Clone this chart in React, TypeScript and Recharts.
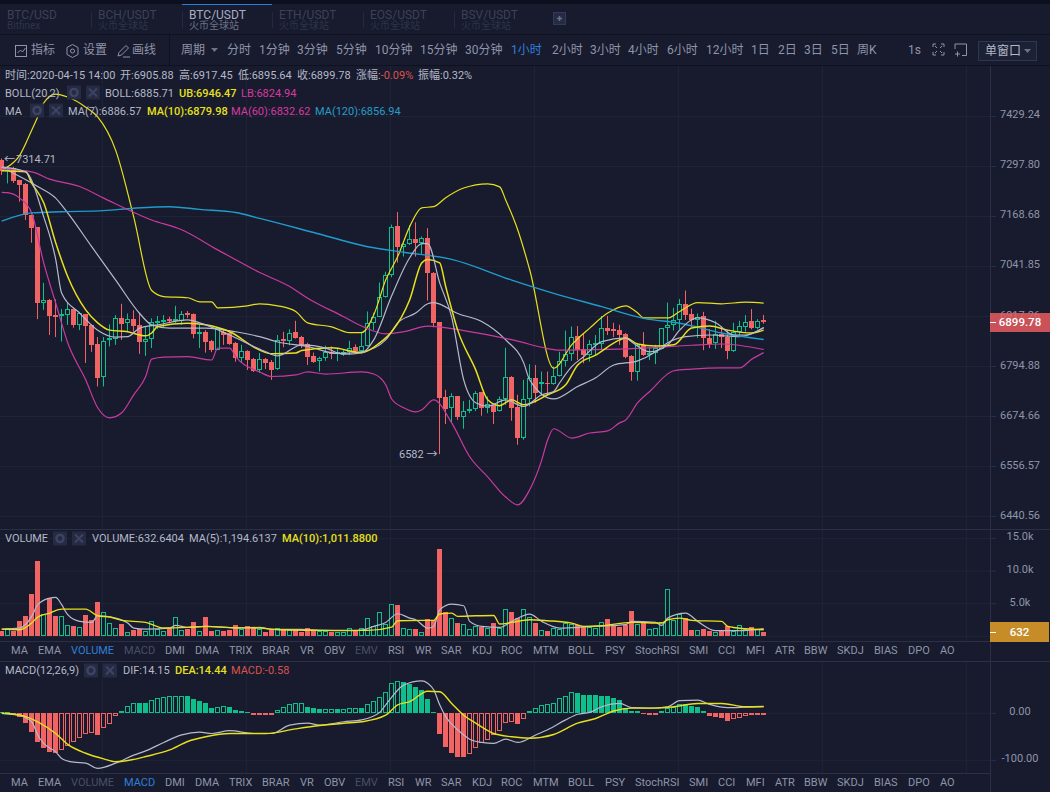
import React from "react"
import { ComposedChart, Bar, Line, XAxis, YAxis, CartesianGrid } from "recharts"

const opens = [7311,7281,7289,7259,7249,7169,7137,6948,6955,6917,6914,6918,6933,6893,6920,6893,6846,6765,6855,6858,6909,6897,6907,6893,6852,6858,6898,6901,6907,6903,6903,6921,6919,6871,6876,6853,6832,6876,6874,6848,6813,6829,6809,6783,6809,6803,6785,6858,6854,6875,6863,6845,6817,6804,6811,6826,6821,6821,6826,6839,6830,6842,6898,6913,6961,7016,7141,7088,7094,7107,7098,7110,7023,6899,6717,6691,6720,6671,6685,6689,6729,6692,6699,6684,6714,6767,6693,6620,6713,6763,6750,6751,6748,6769,6805,6821,6866,6833,6819,6844,6846,6885,6883,6880,6871,6817,6779,6844,6819,6823,6834,6885,6892,6905,6945,6919,6905,6915,6860,6848,6871,6862,6829,6875,6888,6902,6885,6905.88]
const closes = [7281,7289,7256,7246,7169,7136,6948,6955,6915,6913,6920,6932,6893,6921,6890,6844,6764,6854,6860,6909,6896,6907,6891,6852,6858,6901,6902,6904,6903,6907,6919,6917,6871,6875,6852,6831,6885,6868,6846,6813,6828,6807,6780,6809,6800,6783,6856,6853,6874,6861,6844,6815,6803,6811,6826,6821,6827,6826,6837,6830,6842,6898,6913,6961,7016,7139,7088,7094,7107,7098,7110,7023,6898,6716,6689,6719,6671,6685,6689,6728,6692,6700,6683,6714,6767,6692,6619,6713,6763,6727,6753,6748,6769,6805,6821,6864,6831,6819,6845,6848,6885,6879,6879,6868,6814,6779,6844,6819,6823,6836,6885,6892,6905,6944,6917,6905,6913,6860,6846,6870,6864,6829,6875,6889,6901,6885,6902,6899.78]
const highs = [7314.71,7295,7293,7259,7251,7170,7138,6997,6957,6956,6932,6947,6934,6925,6920,6894,6863,6863,6894,6917,6945,6921,6929,6922,6889,6909,6915,6917,6913,6940,6927,6927,6921,6893,6880,6856,6888,6883,6880,6851,6844,6831,6812,6824,6812,6807,6868,6876,6882,6903,6866,6849,6825,6815,6842,6840,6836,6831,6854,6845,6876,6926,6923,6998,7025,7144,7176,7098,7143,7150,7114,7135,7024,6900,6735,6727,6720,6708,6711,6732,6730,6719,6703,6719,6837,6768,6723,6759,6797,6795,6779,6779,6791,6827,6879,6889,6890,6872,6856,6868,6915,6915,6898,6893,6873,6819,6846,6875,6838,6844,6885,6948,6935,6957,6978,6933,6921,6925,6882,6903,6890,6880,6898,6903,6917,6932,6907,6917.45]
const lows = [7272,7250,7251,7203,7156,7098,6907,6930,6868,6863,6852,6893,6886,6880,6800,6827,6743,6743,6840,6844,6856,6876,6876,6822,6817,6836,6883,6885,6897,6898,6893,6910,6860,6836,6825,6826,6831,6844,6844,6803,6802,6783,6778,6776,6785,6759,6783,6838,6843,6859,6836,6795,6800,6779,6805,6809,6804,6817,6819,6821,6827,6840,6880,6912,6960,7011,7048,7063,7092,7063,7067,6953,6887,6582,6653,6656,6663,6642,6679,6684,6673,6679,6653,6683,6699,6661,6604,6616,6695,6704,6721,6723,6747,6767,6791,6805,6807,6799,6803,6819,6831,6868,6863,6844,6811,6757,6757,6817,6807,6797,6833,6852,6879,6882,6905,6887,6861,6831,6836,6834,6836,6809,6827,6868,6876,6882,6882,6895.64]
const volumes = [770,1220,770,2400,3160,6530,11580,3470,5870,3060,3160,1730,1630,1480,3320,2450,5300,3720,2040,1330,1940,660,920,1120,870,2350,1120,870,1220,2960,970,1120,2240,870,3010,870,1020,870,920,1790,1120,1630,1380,1170,710,1020,1220,970,920,1020,710,1280,1020,870,870,710,610,710,1220,770,1220,2800,1530,3720,1890,4950,4850,1330,1120,1170,660,2700,2550,13410,3770,2800,2090,1890,1170,1630,1480,1330,2040,1330,4180,3770,2800,4180,2960,2090,1020,870,1280,1120,2090,1890,1680,1530,1430,1280,2190,2700,1790,1380,1680,3930,1890,2040,1170,1330,2140,7240,2550,3420,2860,1020,970,1170,770,660,770,1530,770,1730,1120,1430,1120,632.64]
const macdBars = [2.8,3.5,-3.5,-7,-21,-39,-60,-73,-82,-84,-79,-69,-60,-52,-44,-41,-46,-32,-23,-5,5.7,16,23,22,21,28,32,34,36,37,37.5,36,31,26,21,12,14,15,13,6,4,3.5,-3.5,-3,-1.5,-3,8,14,19,21,21.3,14,11,8.5,8.8,9,8.5,9,10.6,11.3,10.6,19,26,34,45,64,69,66,62,56,50,30,3.5,-44,-71,-84,-92,-92.5,-86,-73,-64,-57,-46,-38,-20,-18,-23,-13,5,11,18,19,23,32,37,45,43,39,39,38,36,36,32,28,11,5,5,-2,-3.5,-3.5,5,11,14,19,19,16,13,5,-6,-8,-9,-16,-13,-9,-5,-4,-3.5,-0.58]

// line readings: candle index + value at that candle
const ma7At = [0,4,7,9,10,13,16,19,21,23,26,31,33,38,42,44,46,50,54,57,60,62,65,68,70,71,73,75,77,79,81,84,87,90,92,93,95,97,100,104,105,108,111,113,116,119,122,124,127]
const ma7 = [7293,7280,7164,7056,6971,6922,6880,6863,6864,6885,6893,6905,6898,6868,6840,6827,6817,6844,6836,6821,6824,6856,6965,7060,7096,7096,6997,6912,6759,6704,6696,6711,6695,6723,6731,6752,6791,6815,6852,6861,6851,6827,6844,6880,6910,6898,6868,6868,6886.57]
const ma10At = [0,4,5,7,9,11,14,16,18,21,24,25,26,31,34,38,43,45,49,50,55,60,63,65,68,70,71,73,74,76,79,81,83,85,87,91,94,96,99,103,104,106,109,112,115,118,121,125,127]
const ma10 = [7283,7280,7251,7200,7098,7013,6930,6898,6880,6876,6866,6873,6889,6897,6893,6876,6831,6822,6824,6830,6837,6825,6849,6876,6955,7047,7056,7047,6988,6880,6783,6711,6697,6711,6699,6723,6747,6795,6819,6856,6861,6846,6841,6844,6885,6890,6880,6873,6879.98]
const ma60At = [0,5,8,13,17,25,30,36,43,48,51,57,60,64,67,71,77,86,90,93,101,107,115,120,127]
const ma60 = [7287,7280,7261,7242,7212,7156,7131,7080,7023,6988,6959,6913,6890,6871,6876,6890,6879,6853,6838,6831,6833,6836,6843,6846,6832.62]
const ma120At = [0,5,10,17,22,28,33,39,43,52,61,67,75,85,92,100,107,113,120,127]
const ma120 = [7153,7174,7177,7180,7186,7190,7183,7175,7160,7124,7088,7074,7056,7004,6971,6938,6909,6897,6873,6856.94]
const bollAt = [0,6,9,11,15,19,23,25,28,34,39,43,46,51,56,60,64,66,69,71,72,76,80,84,87,88,92,96,99,102,106,109,111,114,118,123,127]
const boll = [7292,7242,7212,7174,7088,7004,6921,6893,6885,6885,6876,6864,6851,6840,6823,6827,6856,6898,6922,6945,6948,6921,6901,6856,6800,6759,6713,6743,6764,6795,6805,6827,6849,6864,6868,6864,6885.71]
const ubAt = [0,1,3,5,6,7,9,11,14,16,19,22,25,27,31,33,35,36,41,43,46,49,51,55,58,60,62,64,66,68,70,72,74,77,81,83,84,86,88,92,95,98,101,104,106,107,111,113,116,120,124,127]
const ub = [7285,7293,7323,7389,7424,7461,7485,7477,7450,7424,7336,7164,6978,6963,6960,6950,6950,6935,6940,6945,6940,6926,6898,6888,6874,6874,6917,7004,7063,7139,7187,7190,7213,7238,7249,7241,7207,7131,7030,6787,6844,6885,6922,6940,6922,6910,6910,6926,6948,6945,6949,6946.47]
const lbAt = [0,1,3,5,7,9,11,14,16,18,20,22,24,25,27,31,35,36,38,39,43,45,49,51,54,60,62,64,65,67,69,70,72,75,78,81,84,86,88,90,91,92,95,98,101,103,104,106,108,112,115,120,123,125,127]
const lb = [7227,7226,7212,7174,7047,6947,6849,6759,6692,6668,6680,6723,6767,6809,6814,6815,6807,6836,6836,6815,6778,6767,6771,6778,6773,6778,6773,6747,6713,6692,6682,6687,6711,6656,6576,6529,6482,6464,6499,6568,6616,6642,6620,6632,6637,6656,6663,6704,6731,6781,6785,6788,6788,6809,6824.94]

const volMa5At = [0,3,5,6,8,9,10,11,13,15,16,19,21,22,24,28,29,31,34,39,43,45,50,53,58,60,62,64,66,68,69,71,72,73,75,77,78,80,83,85,88,90,93,96,99,104,105,109,110,111,114,116,119,123,127]
const volMa5 = [1120,1280,3060,4850,5870,5970,4850,3320,2300,2140,3160,2800,2040,1280,1120,1280,1680,1380,1530,1280,1380,1070,1070,920,870,970,1530,2140,3470,2800,2550,1280,1530,4080,4950,4690,2300,1530,1380,2300,3420,2300,1280,1380,1530,1790,2300,2140,1680,2800,3570,2300,870,870,1194.61]
const volMa10At = [0,3,5,6,8,10,14,16,18,20,24,27,31,34,39,43,46,55,61,65,66,70,72,73,75,76,79,82,83,85,88,91,95,97,100,105,110,111,113,115,120,121,124,127]
const volMa10 = [1120,1020,2040,2960,3570,4180,4180,3160,2960,2450,2140,1280,1380,1530,1330,1280,1020,920,920,1430,2400,2450,2450,3420,3570,3060,3160,3210,1890,2140,2550,2400,2040,1530,1630,2140,2040,2550,2800,2450,2300,1530,1170,1011.88]

const difAt = [0,3,5,6,7,9,10,12,14,16,19,22,24,27,30,33,35,38,42,45,48,51,53,57,60,63,64,67,70,71,72,73,74,76,78,80,82,84,86,89,91,94,96,98,100,103,105,108,111,113,116,118,121,124,127]
const dif = [0,-5,-18,-46,-64,-82,-96,-104,-106,-117,-106,-89,-80,-62,-46,-40,-43,-37,-43,-43,-25,-21,-25,-18,-14,2,18,60,69,64,50,18,-7,-35,-55,-62,-64,-55,-62,-46,-35,-14,-2,2,14,21,12,11,14,27,28,19,12,13,14.15]
const deaAt = [0,3,6,9,11,14,17,19,22,24,28,31,34,38,44,49,53,57,60,64,66,68,71,73,75,77,79,82,85,88,92,96,99,102,105,109,112,116,120,124,127]
const dea = [0,-3.5,-18,-43,-66,-85,-97,-103,-98,-92,-78,-60,-50,-43,-43,-33,-26,-21,-18,-4,18,25,47,46,21,-4,-21,-43,-50,-53,-45,-21,-11,5,11,11,14,21,21,14,14.44]

const priceTicks = [7429.24,7297.8,7168.68,7041.85,6917.26,6794.88,6674.66,6556.57,6440.56]
// gridlines sit just under each price label
const priceGridLevels = [7425.3,7293.9,7164.9,7038.1,6913.6,6791.3,6671.1,6553.1,6437.1]
const volumeTicks = [0,5000,10000,15000]
const macdTicks = [0,-100]
const timeTicks = [16.77,40.77,64.77,88.77,112.77,136.77,160.77]

const pairTabs = [
  ["BTC/USD", "Bitfinex", 7],
  ["BCH/USDT", "火币全球站", 98],
  ["BTC/USDT", "火币全球站", 189],
  ["ETH/USDT", "火币全球站", 279],
  ["EOS/USDT", "火币全球站", 370],
  ["BSV/USDT", "火币全球站", 461],
] as const
const periods = [["分时",227],["1分钟",259],["3分钟",297],["5分钟",336],["10分钟",375],["15分钟",420],["30分钟",465],["1小时",511],["2小时",552],["3小时",590],["4小时",628],["6小时",667],["12小时",706],["1日",751],["2日",778],["3日",804],["5日",831],["周K",857]] as const
const indicators = [["MA",11],["EMA",38],["VOLUME",71],["MACD",124],["DMI",165],["DMA",195],["TRIX",229],["BRAR",262],["VR",300],["OBV",324],["EMV",355],["RSI",388],["WR",415],["SAR",441],["KDJ",472],["ROC",501],["MTM",533],["BOLL",568],["PSY",605],["StochRSI",635],["SMI",689],["CCI",718],["MFI",746],["ATR",775],["BBW",804],["SKDJ",837],["BIAS",874],["DPO",908],["AO",940]] as const

const RED = "#f26363"
const GREEN = "#0fbf8b"
const BG = "#171b2d"
const GRID = "#1f2436"
const EDGE = "#2a3048"
const TEXT = "#8f94aa"
const LABEL = "#b4b8c9"
const DIM = "#4a4f66"
const YELLOW = "#e8e01c"
const MAGENTA = "#c93a9f"
const CYAN = "#1f9ccb"
const SILVER = "#b6bacd"
const FONT = 'Roboto, "Noto Sans CJK SC", sans-serif'

const candles = opens.map((open, i) => ({
  i,
  open,
  close: closes[i],
  high: highs[i],
  low: lows[i],
  range: [lows[i], highs[i]],
}))
const volumeRows = volumes.map((volume, i) => ({ i, volume, up: closes[i] >= opens[i] }))
const macdRows = macdBars.map((macd, i) => ({ i, macd, rising: i > 0 && macd > macdBars[i - 1] }))

const series = (at: number[], values: number[]) => at.map((i, k) => ({ i, v: values[k] }))

// hollow or filled body, snapped to whole pixels so the 1px outline stays sharp
function Body({ left, top, bottom, color, hollow }: any) {
  const t = Math.round(top)
  const h = Math.max(Math.round(bottom) - t, 1)
  return hollow ? (
    <rect x={left + 0.5} y={t + 0.5} width={4} height={Math.max(h - 1, 1)} fill={BG} stroke={color} strokeWidth={1} />
  ) : (
    <rect x={left} y={t} width={5} height={h} fill={color} />
  )
}

// wick + body, body ends placed from the bar's own high/low pixels on the log axis
function Candle({ x, y, height, payload }: any) {
  const { open, close, high, low } = payload
  const yOf = (p: number) => y + (height * Math.log(high / p)) / Math.log(high / low)
  const left = Math.round(x)
  const mid = left + 2.5
  const up = close >= open
  const color = up ? GREEN : RED
  return (
    <g>
      <line x1={mid} x2={mid} y1={y} y2={y + height} stroke={color} strokeWidth={1} />
      <Body left={left} top={yOf(Math.max(open, close))} bottom={yOf(Math.min(open, close))} color={color} hollow={up} />
    </g>
  )
}

function VolumeBar({ x, y, height, payload }: any) {
  return <Body left={Math.round(x)} top={y} bottom={y + height} color={payload.up ? GREEN : RED} hollow={payload.up} />
}

function MacdBar({ x, y, height, payload }: any) {
  const top = Math.min(y, y + height)
  return (
    <Body
      left={Math.round(x)}
      top={top}
      bottom={top + Math.abs(height)}
      color={payload.macd >= 0 ? GREEN : RED}
      hollow={payload.rising}
    />
  )
}

// reference draws tick text and tick mark about 1.5px apart
const axisTick = (format: (v: number) => string, textDy: number, markDy: number) => (p: any) => (
  <g>
    <line x1={990} x2={996} y1={p.y + markDy} y2={p.y + markDy} stroke={EDGE} />
    <text x={1020} y={p.y + textDy} fill={TEXT} fontSize={11} fontFamily={FONT} textAnchor="middle" dominantBaseline="central">
      {format(p.payload.value)}
    </text>
  </g>
)

const xDomain: [number, number] = [-0.283, 164.717]

function Panel({ top, height, data, yProps, children, ticks, gridLevels }: any) {
  return (
    <div style={{ position: "absolute", left: 0, top }}>
      <ComposedChart width={1050} height={height} data={data} margin={{ top: 0, right: 0, bottom: 0, left: 0 }}>
        <CartesianGrid stroke={GRID} verticalValues={timeTicks} horizontalValues={gridLevels ?? ticks} />
        <XAxis dataKey="i" type="number" domain={xDomain} hide allowDataOverflow ticks={timeTicks} />
        <YAxis
          orientation="right"
          width={60}
          type="number"
          ticks={ticks}
          axisLine={false}
          tickLine={false}
          tickSize={6}
          interval={0}
          allowDataOverflow
          {...yProps}
        />
        {children}
      </ComposedChart>
    </div>
  )
}

const lineOf = (at: number[], values: number[], color: string, width = 1.2) => (
  <Line
    key={color + at.length}
    data={series(at, values)}
    dataKey="v"
    type="monotone"
    stroke={color}
    strokeWidth={width}
    dot={false}
    connectNulls
    isAnimationActive={false}
    legendType="none"
  />
)

function T({ x, y, c = LABEL, s = 11, w = 400, children }: any) {
  return (
    <div style={{ position: "absolute", left: x, top: y, transform: "translateY(-50%)", color: c, fontSize: s, fontWeight: w, fontFamily: FONT, whiteSpace: "nowrap", lineHeight: 1 }}>
      {children}
    </div>
  )
}

function Rule({ x = 0, y, w, h = 1, c = EDGE }: any) {
  return <div style={{ position: "absolute", left: x, top: y, width: w, height: h, background: c }} />
}

function ToolIcons({ x, y }: any) {
  return (
    <svg style={{ position: "absolute", left: x, top: y }} width={33} height={15}>
      <rect width={14} height={14} x={0} y={0.5} fill="#262b44" />
      <circle cx={7} cy={7.5} r={3.6} fill="none" stroke="#3d4361" strokeWidth={2.4} />
      <rect width={14} height={14} x={19} y={0.5} fill="#262b44" />
      <path d="M22 3.5l8 8M30 3.5l-8 8" stroke="#3d4361" strokeWidth={2} />
    </svg>
  )
}

function Indicators({ y, active, dim }: any) {
  return (
    <>
      {indicators.map(([name, x]) => (
        <T key={name} x={x} y={y} s={11} c={name === active ? "#2f7fd8" : dim.includes(name) ? DIM : TEXT}>
          {name}
        </T>
      ))}
    </>
  )
}

export default function App() {
  return (
    <div style={{ position: "absolute", left: 0, top: 0, width: 1050, height: 792, background: BG, overflow: "hidden" }}>
      <Panel
        top={66}
        height={463}
        data={candles}
        ticks={priceTicks}
        gridLevels={priceGridLevels}
        yProps={{
          scale: "log",
          domain: [6408.5, 7560.3],
          tick: axisTick((v) => v.toFixed(2), 0, 1.5),
        }}
      >
        <Bar dataKey="range" barSize={5} shape={<Candle />} isAnimationActive={false} />
        {lineOf(lbAt, lb, MAGENTA)}
        {lineOf(ubAt, ub, YELLOW)}
        {lineOf(bollAt, boll, SILVER)}
        {lineOf(ma120At, ma120, CYAN, 1.4)}
        {lineOf(ma60At, ma60, MAGENTA)}
        {lineOf(ma10At, ma10, YELLOW, 1.5)}
        {lineOf(ma7At, ma7, SILVER)}
      </Panel>

      <Panel
        top={530}
        height={111}
        data={volumeRows}
        ticks={volumeTicks}
        yProps={{
          domain: [-704, 16286],
          tick: axisTick((v) => (v === 0 ? "0" : (v / 1000).toFixed(1) + "k"), -1.5, 0),
        }}
      >
        <Bar dataKey="volume" barSize={5} shape={<VolumeBar />} isAnimationActive={false} />
        {lineOf(volMa5At, volMa5, SILVER)}
        {lineOf(volMa10At, volMa10, YELLOW, 1.4)}
      </Panel>

      <Panel
        top={661}
        height={112}
        data={macdRows}
        ticks={macdTicks}
        yProps={{
          domain: [-127, 111.3],
          tick: axisTick((v) => v.toFixed(2), -1.5, 0),
        }}
      >
        <Bar dataKey="macd" barSize={5} shape={<MacdBar />} isAnimationActive={false} />
        {lineOf(difAt, dif, SILVER)}
        {lineOf(deaAt, dea, YELLOW, 1.4)}
      </Panel>

      {/* header */}
      <Rule y={0} w={1050} h={4} c="#0c0f1e" />
      <Rule y={4} w={1050} h={30} c={BG} />
      <Rule y={34} w={1050} c="#0e111f" />
      <Rule y={35} w={1050} h={30} c={BG} />
      <Rule y={65} w={1050} c="#0e111f" />
      <Rule x={182} y={4} w={90} c="#2a7de1" />
      {pairTabs.map(([name, sub, x], k) => (
        <React.Fragment key={name}>
          {k > 0 && <Rule x={x - 7} y={12} w={1} h={16} c="#242940" />}
          <T x={x} y={15} s={12} c={k === 2 ? "#a9aec2" : "#3c4158"}>{name}</T>
          <T x={x} y={26} s={10} c={k === 2 ? "#6d7287" : "#2f3449"}>{sub}</T>
        </React.Fragment>
      ))}
      <svg style={{ position: "absolute", left: 553, top: 12 }} width={14} height={14}>
        <rect x={0.5} y={0.5} width={12} height={12} fill="#262b44" stroke="#333a59" />
        <path d="M6.5 4v5M4 6.5h5" stroke="#6d7287" strokeWidth={1.4} />
      </svg>

      <svg style={{ position: "absolute", left: 14, top: 43 }} width={160} height={16} fill="none" stroke={TEXT}>
        <rect x={1.5} y={2.5} width={11} height={11} />
        <path d="M3.5 10l3-3 2 2 3-4" />
        <path d="M53 4.5l5.5-3 5.5 3v7l-5.5 3-5.5-3z" />
        <circle cx={58.5} cy={8} r={2} />
        <path d="M104 13l1-3.500 7-7 2.500 2.500-7 7zM109 14h7" />
      </svg>
      <T x={31} y={50} s={12} c={TEXT}>指标</T>
      <T x={83} y={50} s={12} c={TEXT}>设置</T>
      <T x={132} y={50} s={12} c={TEXT}>画线</T>
      <Rule x={169} y={35} w={1} h={30} c="#0e111f" />
      <T x={181} y={50} s={12} c={TEXT}>周期</T>
      <svg style={{ position: "absolute", left: 211, top: 48 }} width={8} height={5}><path d="M0 0h7l-3.500 4z" fill="#6d7287" /></svg>
      {periods.map(([name, x]) => (
        <T key={name} x={x} y={50} s={12} c={name === "1小时" ? "#2f7fd8" : TEXT}>{name}</T>
      ))}
      <T x={908} y={50} s={12} c={TEXT}>1s</T>
      <svg style={{ position: "absolute", left: 932, top: 43 }} width={36} height={14} fill="none" stroke={TEXT}>
        <path d="M1 4V1h3M9 1h3v3M12 9v3H9M4 12H1V9M3 3l2 2M10 3L8 5M10 10L8 8M3 10l2-2" />
        <path d="M23 1h11.500v11.500H30M23 1v5M23 11h5M25.500 8.500v5" />
      </svg>
      <div style={{ position: "absolute", left: 978, top: 41, width: 57, height: 18, border: "1px solid #2f3654", background: "#1c2136" }} />
      <T x={985} y={51} s={12} c={LABEL}>单窗口</T>
      <svg style={{ position: "absolute", left: 1024, top: 49 }} width={8} height={5}><path d="M0 0h7l-3.500 4z" fill="#6d7287" /></svg>

      {/* panel frames */}
      <Rule x={990} y={66} w={1} h={726} />
      <Rule y={529} w={1050} />
      <Rule y={641} w={990} />
      <Rule y={661} w={1050} />
      <Rule y={773} w={990} />

      {/* price legend */}
      <T x={5} y={75}>时间:2020-04-15 14:00</T>
      <T x={120} y={75}>开:6905.88</T>
      <T x={179} y={75}>高:6917.45</T>
      <T x={238} y={75}>低:6895.64</T>
      <T x={297} y={75}>收:6899.78</T>
      <T x={356} y={75}>涨幅:<span style={{ color: "#d9534f" }}>-0.09%</span></T>
      <T x={418} y={75}>振幅:0.32%</T>
      <T x={5} y={93}>BOLL(20,2)</T>
      <ToolIcons x={67} y={85} />
      <T x={105} y={93}>BOLL:6885.71</T>
      <T x={179} y={93} c={YELLOW} w={500}>UB:6946.47</T>
      <T x={241} y={93} c="#d63aa0">LB:6824.94</T>
      <T x={5} y={111}>MA</T>
      <ToolIcons x={30} y={103} />
      <T x={68} y={111}>MA(7):6886.57</T>
      <T x={147} y={111} c={YELLOW} w={500}>MA(10):6879.98</T>
      <T x={231} y={111} c="#d63aa0">MA(60):6832.62</T>
      <T x={315} y={111} c="#2a9bc8">MA(120):6856.94</T>
      <T x={4} y={159} c={LABEL}>←</T>
      <T x={16} y={159} c={LABEL}>7314.71</T>
      <T x={399} y={454} c={LABEL}>6582 →</T>

      {/* price tag */}
      <div style={{ position: "absolute", left: 990, top: 313, width: 60, height: 19, background: "rgba(232,92,96,0.85)", color: "#fff", fontSize: 11.5, fontWeight: 500, fontFamily: FONT, textAlign: "center", lineHeight: "19px" }}>
        6899.78
      </div>
      <Rule x={990} y={322} w={6} c="#fff" />

      {/* volume legend */}
      <T x={5} y={538}>VOLUME</T>
      <ToolIcons x={53} y={531} />
      <T x={92} y={538}>VOLUME:632.6404</T>
      <T x={189} y={538}>MA(5):1,194.6137</T>
      <T x={282} y={538} c={YELLOW} w={500}>MA(10):1,011.8800</T>
      <div style={{ position: "absolute", left: 990, top: 622, width: 59, height: 20, background: "rgba(208,146,40,0.95)", color: "#fff", fontSize: 11.5, fontWeight: 500, fontFamily: FONT, textAlign: "center", lineHeight: "20px" }}>
        632
      </div>
      <Rule x={990} y={632} w={6} c="#fff" />
      <Indicators y={650} active="VOLUME" dim={["MACD", "EMV"]} />

      {/* macd legend */}
      <T x={5} y={670}>MACD(12,26,9)</T>
      <ToolIcons x={84} y={663} />
      <T x={123} y={670}>DIF:14.15</T>
      <T x={175} y={670} c={YELLOW} w={500}>DEA:14.44</T>
      <T x={231} y={670} c="#d9534f">MACD:-0.58</T>
      <Indicators y={782} active="MACD" dim={["VOLUME", "EMV"]} />
    </div>
  )
}
